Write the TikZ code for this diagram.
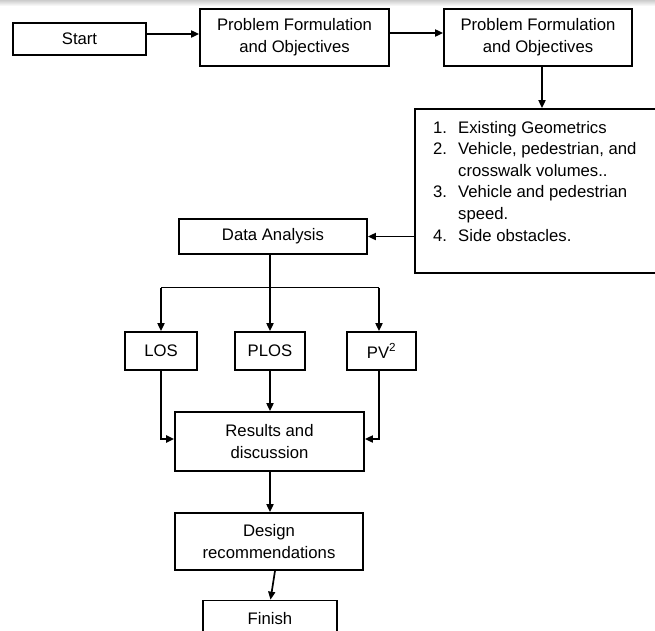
\documentclass[tikz,border=0pt]{standalone}
\usepackage{fontspec}
\setmainfont{Liberation Sans}
\usetikzlibrary{arrows.meta}
\begin{document}
\begin{tikzpicture}[x=1pt,y=1pt,
  box/.style={draw, line width=1.7pt, inner sep=0pt, align=center,
    font=\fontsize{16.7}{21.7}\selectfont},
  conn/.style={line width=1.7pt, -{Triangle[length=8pt,width=7pt]}},
  plain/.style={line width=1.7pt},
  ]
\clip (0,0) rectangle (655,-630);
\fill[white] (0,0) rectangle (655,-630);
\shade[top color=black!20,bottom color=white] (0,0) rectangle (655,-6);

% boxes
\node[box, minimum width=133pt, minimum height=32pt] (start) at (79.5,-39) {Start};
\node[box, minimum width=189pt, minimum height=57pt] (pf1) at (294.5,-37.5) {Problem Formulation\\and Objectives};
\node[box, minimum width=188pt, minimum height=57pt] (pf2) at (538,-37.5) {Problem Formulation\\and Objectives};
\node[box, minimum width=255pt, minimum height=164pt] (lst) at (542.5,-191) {};
\node[anchor=base west, inner sep=0pt, font=\fontsize{16.7}{21.6}\selectfont] (items) at (433,-133)
  {\begin{tabular}[t]{@{}p{25pt}@{}l@{}}
   1. & Existing Geometrics\\
   2. & Vehicle, pedestrian, and\\
      & crosswalk volumes..\\
   3. & Vehicle and pedestrian\\
      & speed.\\
   4. & Side obstacles.
   \end{tabular}};
\node[box, minimum width=188pt, minimum height=35pt] (da) at (273,-236.5) {Data Analysis};
\node[box, minimum width=72pt, minimum height=38pt] (los) at (161,-351) {LOS};
\node[box, minimum width=70pt, minimum height=38pt] (plos) at (270,-351) {PLOS};
\node[box, minimum width=69pt, minimum height=38pt] (pv) at (381.5,-351) {PV\textsuperscript{2}};
\node[box, minimum width=189pt, minimum height=59pt] (res) at (269.5,-441.5) {Results and\\discussion};
\node[box, minimum width=188pt, minimum height=57pt] (des) at (269,-541.5) {Design\\recommendations};
\node[box, minimum width=134pt, minimum height=36pt] (fin) at (270,-618.5) {Finish};

% helper coordinates
\coordinate (ya) at (0,-34);
\coordinate (yb) at (0,-33);
\coordinate (x542) at (542,0);
\coordinate (b1) at (161,-287.5);
\coordinate (b2) at (270,-287.5);
\coordinate (b3) at (379,-287.5);
\coordinate (yin) at (0,-439);
\coordinate (xd1) at (275,0);
\coordinate (xd2) at (270.5,0);

% connectors
\draw[conn] (start.east |- ya) -- (pf1.west |- ya);
\draw[conn] (pf1.east |- yb) -- (pf2.west |- yb);
\draw[conn] (pf2.south -| x542) -- (lst.north -| x542);
\draw[conn] (lst.west |- da.east) -- (da.east);
\draw[plain] (da.south -| b2) -- (b2);
\draw[plain] (b1) -- (b3);
\draw[conn] (b1) -- (b1 |- los.north);
\draw[conn] (b2) -- (b2 |- plos.north);
\draw[conn] (b3) -- (b3 |- pv.north);
\draw[conn, line width=2.9pt] (los.south -| b1) |- (res.west |- yin);
\draw[conn] (pv.south -| b3) |- (res.east |- yin);
\draw[conn] (plos.south -| b2) -- (res.north -| b2);
\draw[conn] (res.south -| b2) -- (des.north -| b2);
\draw[conn] (des.south -| xd1) -- (fin.north -| xd2);
\end{tikzpicture}
\end{document}
